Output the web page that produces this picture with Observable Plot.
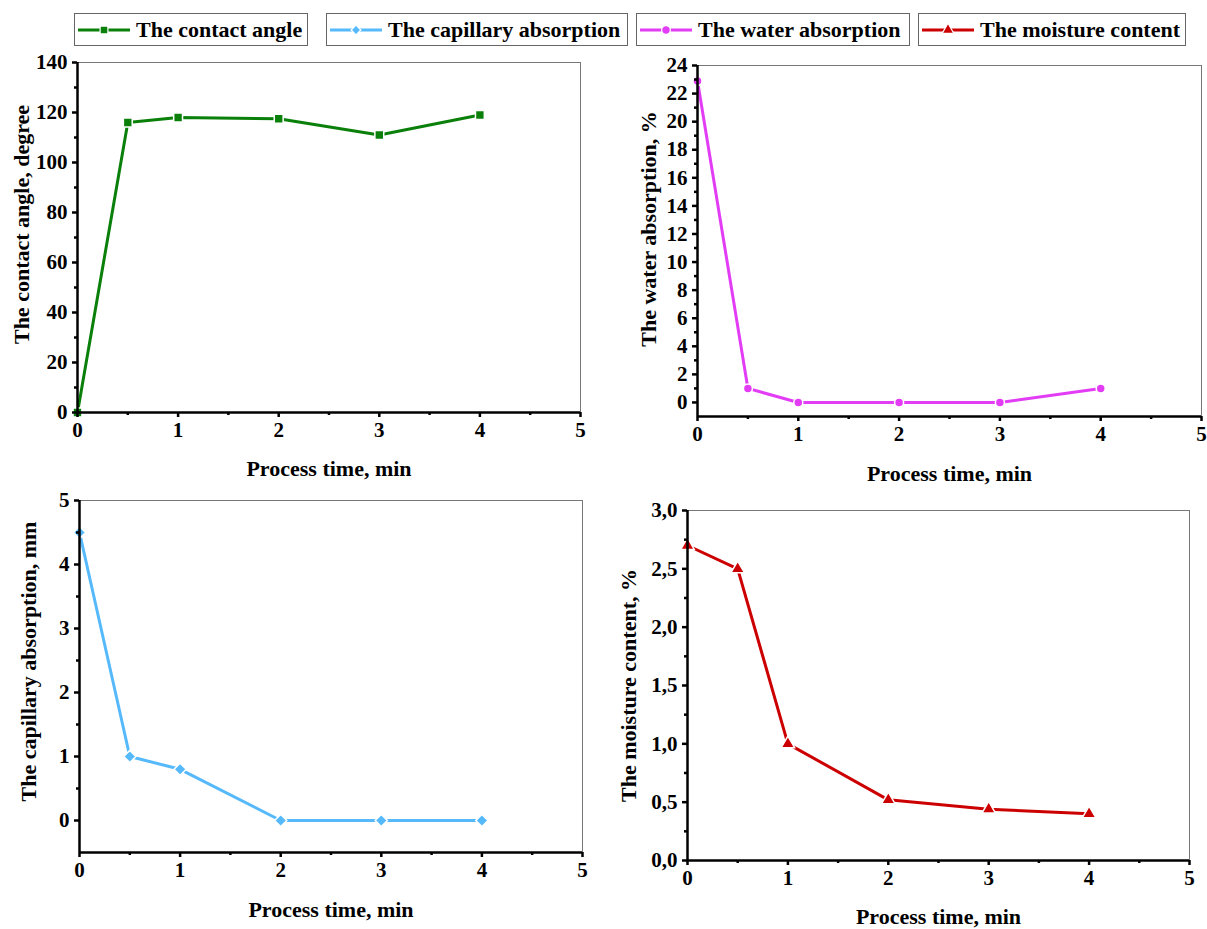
<!DOCTYPE html>
<html>
<head>
<meta charset="utf-8">
<script src="https://cdn.jsdelivr.net/npm/d3@7"></script>
<script src="https://cdn.jsdelivr.net/npm/@observablehq/plot@0.6"></script>
<style>
  body { margin: 0; background: #fff; width: 1207px; height: 929px; position: relative; overflow: hidden;
         font-family: "Liberation Serif", "Times New Roman", serif; font-weight: bold; color: #000; }
  .panel { position: absolute; }
  .key { position: absolute; top: 13px; height: 33px; box-sizing: border-box; border: 1.5px solid #666;
         display: flex; align-items: center; font-size: 22px; white-space: nowrap; padding-left: 3px; }
  .key svg { margin-right: 6px; flex: none; }
</style>
</head>
<body>
<script>
// Process time (min) shared by all four measurements
const time = [0, 0.5, 1, 2, 3, 4];

// Measured series
const contactAngle = [0, 116, 118, 117.5, 111, 119];
const capillaryAbsorption = [4.5, 1, 0.8, 0, 0, 0];
const waterAbsorption = [22.9, 1, 0, 0, 0, 1];
const moistureContent = [2.7, 2.5, 1.0, 0.52, 0.44, 0.4];

// Legend entries (in order)
const seriesNames = ["The contact angle", "The capillary absorption", "The water absorption", "The moisture content"];
const seriesColors = ["#0a800a", "#55b9fb", "#e23cf5", "#cc0000"];
const seriesSymbols = ["square", "diamond2", "circle", "triangle"];

// Axis tick values
const xTicks = [0, 1, 2, 3, 4, 5];
const xMinorTicks = [0.5, 1.5, 2.5, 3.5, 4.5];
const angleTicks = [0, 20, 40, 60, 80, 100, 120, 140];
const angleMinor = [10, 30, 50, 70, 90, 110, 130];
const waterTicks = [0, 2, 4, 6, 8, 10, 12, 14, 16, 18, 20, 22, 24];
const waterMinor = [1, 3, 5, 7, 9, 11, 13, 15, 17, 19, 21, 23];
const capillaryTicks = [0, 1, 2, 3, 4, 5];
const capillaryMinor = [0.5, 1.5, 2.5, 3.5, 4.5];
const moistureTicks = [0, 0.5, 1, 1.5, 2, 2.5, 3];
const moistureMinor = [0.25, 0.75, 1.25, 1.75, 2.25, 2.75];

const FONT = '"Liberation Serif", "Times New Roman", serif';
const xLabel = "Process time, min";

function panel(cfg) {
  const data = time.map((t, i) => ({t, v: cfg.values[i]}));
  const chart = Plot.plot({
    width: cfg.width,
    height: cfg.height,
    marginLeft: cfg.m[0], marginRight: cfg.m[1], marginTop: cfg.m[2], marginBottom: cfg.m[3],
    style: {fontFamily: FONT, fontWeight: "bold", fontSize: "21px", background: "white", overflow: "visible"},
    x: {domain: [0, 5]},
    y: {domain: cfg.yDomain},
    marks: [
      Plot.frame({stroke: "#777", strokeWidth: 1}),
      Plot.line(data, {x: "t", y: "v", stroke: cfg.color, strokeWidth: 3}),
      Plot.dot(data, {x: "t", y: "v", symbol: cfg.symbol, r: cfg.r, fill: cfg.color, stroke: "white", strokeWidth: 1.5}),
      Plot.ruleX([0], {strokeWidth: 2.5}),
      Plot.ruleY([cfg.yDomain[0]], {strokeWidth: 2.5}),
      Plot.axisX({ticks: xTicks, tickSize: 5, tickPadding: 5, strokeWidth: 2.5, label: null,
                  tickFormat: d => String(d), fontSize: 21}),
      Plot.axisX({ticks: xMinorTicks, tickSize: 3, strokeWidth: 2.5, text: null, label: null}),
      Plot.axisY({ticks: cfg.yTicks, tickSize: 5, tickPadding: 5, strokeWidth: 2.5, label: null,
                  tickFormat: cfg.fmt, fontSize: 21}),
      Plot.axisY({ticks: cfg.yMinor, tickSize: 3, strokeWidth: 2.5, text: null, label: null}),
      Plot.text([xLabel], {frameAnchor: "bottom", dy: cfg.xlDy, fontSize: 22, lineAnchor: "middle", textAnchor: "middle"}),
      Plot.text([cfg.yLabel], {frameAnchor: "left", dx: cfg.ylDx, dy: cfg.ylDy, rotate: -90, fontSize: 22,
                               lineAnchor: "middle", textAnchor: "middle"})
    ]
  });
  const div = document.createElement("div");
  div.className = "panel";
  div.style.left = cfg.left + "px";
  div.style.top = cfg.top + "px";
  div.appendChild(chart);
  document.body.appendChild(div);
}

panel({left: 0, top: 50, width: 600, height: 440, m: [77, 20, 12, 78],
  values: contactAngle, yDomain: [0, 140], yTicks: angleTicks, yMinor: angleMinor,
  color: seriesColors[0], symbol: seriesSymbols[0], r: 5, fmt: d => String(d),
  yLabel: "The contact angle, degree", ylDx: -56, ylDy: -13, xlDy: 56});

panel({left: 610, top: 50, width: 597, height: 440, m: [87, 6, 15, 74],
  values: waterAbsorption, yDomain: [-1, 24], yTicks: waterTicks, yMinor: waterMinor,
  color: seriesColors[2], symbol: seriesSymbols[2], r: 4.5, fmt: d => String(d),
  yLabel: "The water absorption, %", ylDx: -49, ylDy: -12, xlDy: 57});

panel({left: 0, top: 490, width: 600, height: 439, m: [79, 18, 10, 77],
  values: capillaryAbsorption, yDomain: [-0.5, 5], yTicks: capillaryTicks, yMinor: capillaryMinor,
  color: seriesColors[1], symbol: seriesSymbols[1], r: 5.5, fmt: d => String(d),
  yLabel: "The capillary absorption, mm", ylDx: -51, ylDy: -15, xlDy: 57});

panel({left: 610, top: 490, width: 597, height: 439, m: [77, 18, 20, 69],
  values: moistureContent, yDomain: [0, 3], yTicks: moistureTicks, yMinor: moistureMinor,
  color: seriesColors[3], symbol: seriesSymbols[3], r: 5, fmt: d => d.toFixed(1).replace(".", ","),
  yLabel: "The moisture content, %", ylDx: -59, ylDy: 0, xlDy: 56});

// Legend boxes across the top
const keyLeft = [74, 326, 636, 918];
const keyWidth = [234, 302, 274, 268];
const symbolMap = {square: d3.symbolSquare, diamond2: d3.symbolDiamond2, circle: d3.symbolCircle, triangle: d3.symbolTriangle};
seriesNames.forEach((name, i) => {
  const box = document.createElement("div");
  box.className = "key";
  box.style.left = keyLeft[i] + "px";
  box.style.width = keyWidth[i] + "px";
  const svg = d3.create("svg").attr("width", 52).attr("height", 20);
  svg.append("line").attr("x1", 0).attr("x2", 52).attr("y1", 10).attr("y2", 10)
    .attr("stroke", seriesColors[i]).attr("stroke-width", 3);
  svg.append("path").attr("transform", "translate(26,10)")
    .attr("d", d3.symbol(symbolMap[seriesSymbols[i]], 60)())
    .attr("fill", seriesColors[i]).attr("stroke", "white").attr("stroke-width", 1.2);
  box.appendChild(svg.node());
  const label = document.createElement("span");
  label.textContent = name;
  box.appendChild(label);
  document.body.appendChild(box);
});
</script>
</body>
</html>
